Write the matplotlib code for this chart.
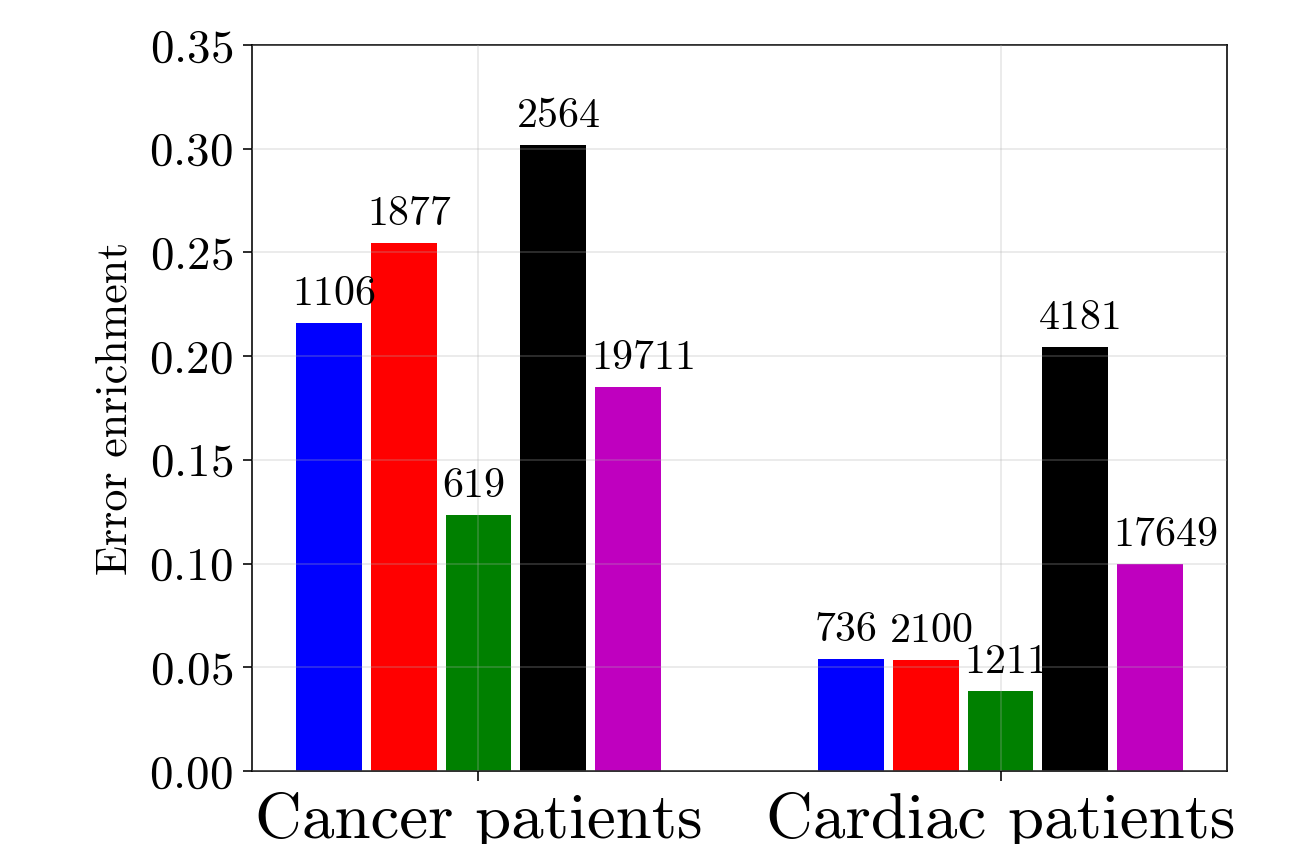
import numpy as np
import matplotlib
matplotlib.use("Agg")
import matplotlib.pyplot as plt

# Error enrichment per method, for each patient cohort
groups = ["Cancer patients", "Cardiac patients"]
enrichment_cancer = [0.216, 0.2545, 0.1235, 0.3018, 0.1852]
enrichment_cardiac = [0.0541, 0.0535, 0.0386, 0.2045, 0.0998]
counts_cancer = [1106, 1877, 619, 2564, 19711]
counts_cardiac = [736, 2100, 1211, 4181, 17649]
bar_colors = ["b", "r", "g", "k", "m"]

plt.rcParams["font.family"] = "cmr10"
plt.rcParams["mathtext.fontset"] = "cm"
plt.rcParams["axes.formatter.use_mathtext"] = True

fig = plt.figure(figsize=(1292 / 144, 844 / 144), dpi=144)
ax = fig.add_axes([252 / 1292, 73 / 844, 975 / 1292, 726 / 844])

x = np.arange(len(groups))
n = len(bar_colors)
step = 1 / 7
width = 0.126

values = np.array([enrichment_cancer, enrichment_cardiac])
counts = np.array([counts_cancer, counts_cardiac])

for i, color in enumerate(bar_colors):
    pos = x + (i - (n - 1) / 2) * step
    ax.bar(pos, values[:, i], width=width, color=color, zorder=1)
    for xp, h, c in zip(pos, values[:, i], counts[:, i]):
        ax.text(xp - 0.07, h + 0.0087, str(c), ha="left", va="baseline",
                fontsize=21)

ax.set_ylim(0, 0.35)
ax.set_yticks(np.arange(0, 0.351, 0.05))
ax.set_xticks(x)
ax.set_xticklabels(groups, fontsize=32.5)
ax.tick_params(axis="y", labelsize=23.5, length=4.5, width=0.8, pad=5)
ax.tick_params(axis="x", length=5, width=0.8, pad=5.5)
ax.set_ylabel("Error enrichment", fontsize=22, labelpad=7)
ax.grid(True, color="#b0b0b0", alpha=0.3, linewidth=0.8, zorder=2)
ax.set_axisbelow(False)

fig.savefig("out.png", dpi=144)
